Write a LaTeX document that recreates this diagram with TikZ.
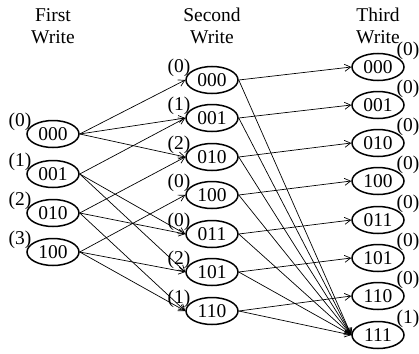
\documentclass[tikz,border=0pt]{standalone}
\usepackage{fontspec}
\setmainfont{Liberation Serif}
\usetikzlibrary{arrows.meta,shapes.geometric}

\tikzset{
  wst/.style={ellipse, draw, line width=1.5pt, minimum width=52pt, minimum height=27pt, inner sep=0pt},
  lleft/.style={label={[xshift=-33pt,yshift=12pt]center:(#1)}},
  lright/.style={label={[xshift=30pt,yshift=16pt]center:(#1)}},
  wedge/.style={-{Straight Barb[length=6pt,width=7pt]}, line width=0.7pt}
}

\begin{document}
\begin{tikzpicture}[x=1pt,y=-1pt,font=\fontsize{19.5}{21.5}\selectfont]
\useasboundingbox (0,0) rectangle (419,353);
% column titles
\node[align=center] (h1) at (53,26) {First\\Write};
\node[align=center] (h2) at (212,26) {Second\\Write};
\node[align=center] (h3) at (378,26) {Third\\Write};
% first write
\node[wst,lleft=0] (f000) at (53,134) {000};
\node[wst,lleft=1] (f001) at (53,174) {001};
\node[wst,lleft=2] (f010) at (53,213) {010};
\node[wst,lleft=3] (f100) at (53,252) {100};
% second write
\node[wst,lleft=0] (s000) at (212,80) {000};
\node[wst,lleft=1] (s001) at (212,118) {001};
\node[wst,lleft=2] (s010) at (212,157) {010};
\node[wst,lleft=0] (s100) at (212,195) {100};
\node[wst,lleft=0] (s011) at (212,234) {011};
\node[wst,lleft=2] (s101) at (212,272) {101};
\node[wst,lleft=1] (s110) at (212,311) {110};
% third write
\node[wst,lright=0] (t000) at (378,67) {000};
\node[wst,lright=0] (t001) at (378,105) {001};
\node[wst,lright=0] (t010) at (378,143) {010};
\node[wst,lright=0] (t100) at (378,181) {100};
\node[wst,lright=0] (t011) at (378,220) {011};
\node[wst,lright=0] (t101) at (378,258) {101};
\node[wst,lright=0] (t110) at (378,296) {110};
\node[wst,lright=1] (t111) at (378,335) {111};
% first to second
\draw[wedge] (f000.east) -- (s000.west);
\draw[wedge] (f000.east) -- (s001.west);
\draw[wedge] (f000.east) -- (s010.west);
\draw[wedge] (f001.east) -- (s001.west);
\draw[wedge] (f001.east) -- (s011.west);
\draw[wedge] (f001.east) -- (s101.west);
\draw[wedge] (f010.east) -- (s010.west);
\draw[wedge] (f010.east) -- (s011.west);
\draw[wedge] (f010.east) -- (s110.west);
\draw[wedge] (f100.east) -- (s100.west);
\draw[wedge] (f100.east) -- (s101.west);
\draw[wedge] (f100.east) -- (s110.west);
% second to third
\draw[wedge] (s000.east) -- (t000.west);
\draw[wedge] (s001.east) -- (t001.west);
\draw[wedge] (s010.east) -- (t010.west);
\draw[wedge] (s100.east) -- (t100.west);
\draw[wedge] (s011.east) -- (t011.west);
\draw[wedge] (s101.east) -- (t101.west);
\draw[wedge] (s110.east) -- (t110.west);
\draw[wedge] (s000.east) -- (t111.west);
\draw[wedge] (s001.east) -- (t111.west);
\draw[wedge] (s010.east) -- (t111.west);
\draw[wedge] (s100.east) -- (t111.west);
\draw[wedge] (s011.east) -- (t111.west);
\draw[wedge] (s101.east) -- (t111.west);
\draw[wedge] (s110.east) -- (t111.west);
\end{tikzpicture}
\end{document}
